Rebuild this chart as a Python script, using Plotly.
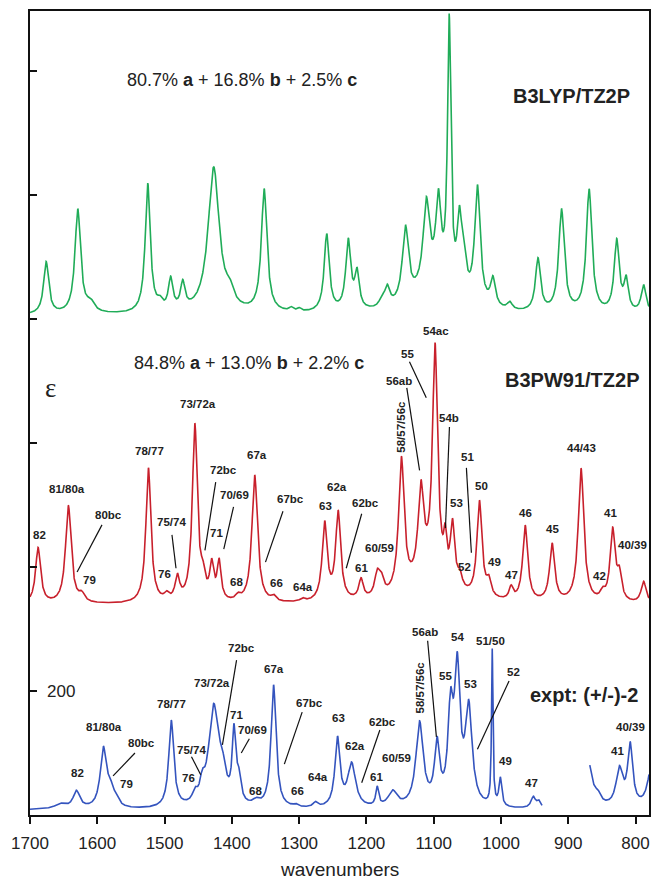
import numpy as np
import plotly.graph_objects as go

# ---- band lists (position in cm^-1, peak height in epsilon units, FWHM in cm^-1) ----
green_centers = [1676, 1629, 1610, 1525, 1507, 1491, 1473, 1427, 1403, 1352, 1312, 1300,
                 1259, 1227, 1214, 1177, 1169, 1142, 1111, 1093, 1077, 1062, 1056, 1035,
                 1012, 987, 945, 910, 869, 828, 814, 788, 1100]
green_heights = [84, 168, 15, 208, 12, 50, 42, 235, 22, 198, 6, 5,
                 125, 112, 58, 12, 30, 120, 130, 125, 428, 105, 60, 190,
                 45, 12, 85, 165, 198, 115, 50, 45, 50]
green_widths = [9, 10, 14, 9, 9, 8, 8, 20, 14, 10, 7, 7,
                9, 9, 8, 9, 9, 11, 11, 9, 6, 8, 10, 10,
                9, 9, 9, 10, 10, 9, 8, 9, 60]

red_centers = [1688, 1643, 1623, 1524, 1497, 1481, 1455, 1443, 1430, 1419, 1391, 1366,
               1338, 1295, 1262, 1242, 1208, 1184, 1178, 1148, 1119, 1098, 1083, 1072,
               1061, 1032, 1018, 985, 964, 924, 881, 849, 834, 824, 788, 1105]
red_heights = [90, 158, 12, 218, 10, 38, 285, 30, 55, 62, 8, 206,
               8, 5, 125, 142, 32, 35, 25, 215, 140, 365, 55, 98,
               20, 155, 25, 20, 122, 93, 216, 12, 115, 40, 35, 45]
red_widths = [9, 10, 10, 9, 8, 8, 9, 8, 7, 7, 8, 10,
              8, 8, 9, 9, 8, 9, 9, 10, 10, 9, 5, 8,
              8, 9, 8, 7, 9, 9, 10, 8, 9, 8, 9, 60]

blue_centers = [1655, 1631, 1591, 1581, 1573, 1490, 1455, 1444, 1427, 1414, 1397, 1390,
                1364, 1338, 1305, 1276, 1243, 1222, 1184, 1161, 1121, 1095, 1075, 1065,
                1048, 1013, 1001, 952, 944, 872, 856, 824, 808, 776]
blue_heights = [8, 28, 95, 25, 12, 140, 15, 25, 160, 40, 110, 40,
                8, 198, 4, 8, 110, 70, 30, 25, 135, 95, 140, 210,
                155, 250, 45, 18, 10, 85, 12, 60, 98, 70]
blue_widths = [20, 12, 11, 10, 12, 9, 8, 8, 18, 12, 6, 8,
               12, 9, 8, 8, 9, 14, 5, 16, 13, 9, 9, 10,
               12, 2.5, 5, 8, 6, 16, 10, 12, 9, 14]

# vertical offsets of the stacked traces
green_offset = 806
red_offset = 339
blue_offset = 8
# experimental trace is not recorded between these wavenumbers
blue_gap = (868, 939)

x_ticks = [1700, 1600, 1500, 1400, 1300, 1200, 1100, 1000, 900, 800]
y_ticks = [0, 200, 400, 600, 800, 1000, 1200]

GREEN = "rgb(32,172,88)"
RED = "rgb(200,32,44)"
BLUE = "rgb(52,84,190)"
FONT = "Liberation Sans, Arial, sans-serif"


def band_sum(x, centers, heights, widths):
    y = np.zeros_like(x)
    for c, h, w in zip(centers, heights, widths):
        g = w / 2.0
        y += h * g * g / ((x - c) ** 2 + g * g)
    return y


wn = np.linspace(1700, 780, 4601)
g_y = green_offset + band_sum(wn, green_centers, green_heights, green_widths)
r_y = red_offset + band_sum(wn, red_centers, red_heights, red_widths)
b_y = blue_offset + band_sum(wn, blue_centers, blue_heights, blue_widths)
b_y = np.where((wn > blue_gap[0]) & (wn < blue_gap[1]), np.nan, b_y)

fig = go.Figure()
for yy, col in [(g_y, GREEN), (r_y, RED), (b_y, BLUE)]:
    fig.add_trace(go.Scatter(x=wn, y=yy, mode="lines", line=dict(color=col, width=1.6),
                             connectgaps=False, hoverinfo="skip", showlegend=False))

# band assignment labels: (text, wavenumber, height, leader line or None)
red_labels = [
    ("82", 1686, 452, None), ("81/80a", 1645, 526, None),
    ("80bc", 1584, 484, (1593, 468, 1630, 392)), ("79", 1612, 379, None),
    ("78/77", 1523, 587, None), ("75/74", 1489, 473, (1489, 452, 1483, 398)),
    ("76", 1500, 389, None), ("73/72a", 1451, 663, None),
    ("72bc", 1412, 556, (1424, 537, 1440, 427)), ("71", 1423, 455, None),
    ("70/69", 1396, 516, (1397.5, 497, 1412, 429)), ("68", 1393, 376, None),
    ("67a", 1363, 581, None), ("67bc", 1313, 510, (1324, 490, 1350, 408)),
    ("66", 1334, 374, None), ("64a", 1294, 368, None), ("63", 1261, 498, None),
    ("62a", 1244, 529, None), ("62bc", 1202, 503, (1207, 486, 1230, 398)),
    ("61", 1207, 398, None), ("60/59", 1180, 431, None),
    ("56ab", 1152, 700, (1140, 689, 1121, 556)), ("55", 1139, 744, (1136, 731, 1111, 673)),
    ("54ac", 1097, 781, None), ("54b", 1078, 640, (1076.6, 626, 1082.5, 463)),
    ("53", 1066, 503, None), ("51", 1050, 577, (1051.4, 560, 1044, 423)),
    ("52", 1054, 400, None), ("50", 1029, 531, None), ("49", 1010, 408, None),
    ("47", 985, 387, None), ("46", 963, 487, None), ("45", 923, 461, None),
    ("44/43", 881, 592, None), ("42", 853, 386, None), ("41", 837, 487, None),
    ("40/39", 804, 435, None),
]
blue_labels = [
    ("82", 1630, 68, None), ("81/80a", 1590, 142, None),
    ("80bc", 1534, 116, (1544, 100, 1576.5, 63)), ("79", 1557, 50, None),
    ("78/77", 1489, 179, None), ("76", 1464, 60, None),
    ("75/74", 1460, 105, (1460, 94, 1446.3, 65)), ("73/72a", 1430, 213, None),
    ("72bc", 1386, 269, (1393, 250, 1414, 113)), ("71", 1393, 161, None),
    ("70/69", 1369, 137, (1374, 123, 1386, 100)), ("68", 1365, 39, None),
    ("67a", 1337, 235, None), ("67bc", 1284, 181, (1295.5, 166, 1322, 82)),
    ("66", 1303, 39, None), ("64a", 1272, 61, None), ("63", 1242, 156, None),
    ("62a", 1217, 111, None), ("62bc", 1176, 150, (1180, 137, 1207, 52)),
    ("61", 1184.5, 61, None), ("60/59", 1156, 92, None),
    ("56ab", 1113.5, 295, (1109, 281, 1096, 126)), ("55", 1082.5, 224, None),
    ("54", 1065, 287, None), ("53", 1045.5, 211, None), ("51/50", 1016, 281, None),
    ("52", 982, 231, (988, 216, 1035, 106)), ("49", 994, 87, None),
    ("47", 954, 52, None), ("41", 827, 103, None), ("40/39", 807, 142, None),
]
rotated_labels = [("58/57/56c", 1149, 626), ("58/57/56c", 1121, 205)]

annotations = []
shapes = []
for text, x, y, line in red_labels + blue_labels:
    annotations.append(dict(x=x, y=y, text="<b>%s</b>" % text, showarrow=False,
                            xanchor="center", yanchor="middle",
                            font=dict(family=FONT, size=11.5, color="#222")))
    if line:
        shapes.append(dict(type="line", x0=line[0], y0=line[1], x1=line[2], y1=line[3],
                           xref="x", yref="y", line=dict(color="#111", width=1.2)))
for text, x, y in rotated_labels:
    annotations.append(dict(x=x, y=y, text="<b>%s</b>" % text, showarrow=False,
                            textangle=-90, xanchor="center", yanchor="middle",
                            font=dict(family=FONT, size=11.5, color="#222")))

# panel captions
annotations += [
    dict(x=1559, y=1186, text="80.7% <b>a</b> + 16.8% <b>b</b> + 2.5% <b>c</b>",
         xanchor="left", yanchor="middle", showarrow=False,
         font=dict(family=FONT, size=18, color="#222")),
    dict(x=806, y=1160, text="<b>B3LYP/TZ2P</b>", xanchor="right", yanchor="middle",
         showarrow=False, font=dict(family=FONT, size=20, color="#222")),
    dict(x=1548, y=729, text="84.8% <b>a</b> + 13.0% <b>b</b> + 2.2% <b>c</b>",
         xanchor="left", yanchor="middle", showarrow=False,
         font=dict(family=FONT, size=18, color="#222")),
    dict(x=792, y=702, text="<b>B3PW91/TZ2P</b>", xanchor="right", yanchor="middle",
         showarrow=False, font=dict(family=FONT, size=20, color="#222")),
    dict(x=794, y=194, text="<b>expt: (+/-)-2</b>", xanchor="right", yanchor="middle",
         showarrow=False, font=dict(family=FONT, size=20, color="#222")),
    dict(x=1670, y=689, text="ε", xanchor="center", yanchor="middle", showarrow=False,
         font=dict(family="Liberation Serif, serif", size=27, color="#222")),
    dict(x=1678, y=200, text="200", xanchor="left", yanchor="middle",
         showarrow=False, font=dict(family=FONT, size=17, color="#222")),
    dict(x=0.5, xref="paper", y=-0.068, yref="paper", text="wavenumbers",
         xanchor="center", yanchor="middle", showarrow=False,
         font=dict(family=FONT, size=19, color="#222")),
]

fig.update_layout(
    width=652, height=881,
    margin=dict(l=30, r=1, t=11, b=66),
    paper_bgcolor="white", plot_bgcolor="white",
    annotations=annotations, shapes=shapes,
    xaxis=dict(range=[1700, 780], tickvals=x_ticks, ticks="outside", ticklen=7,
               tickwidth=1.5, tickcolor="#111", showline=True, linecolor="#111",
               linewidth=2, mirror=True, showgrid=False, zeroline=False,
               ticklabelstandoff=5,
               tickfont=dict(family=FONT, size=17, color="#222")),
    yaxis=dict(range=[0, 1297], tickvals=y_ticks, ticks="inside", ticklen=7,
               tickwidth=1.5, tickcolor="#111", showticklabels=False, showline=True,
               linecolor="#111", linewidth=2, mirror=True, showgrid=False,
               zeroline=False),
)

fig.write_html("out.html")
